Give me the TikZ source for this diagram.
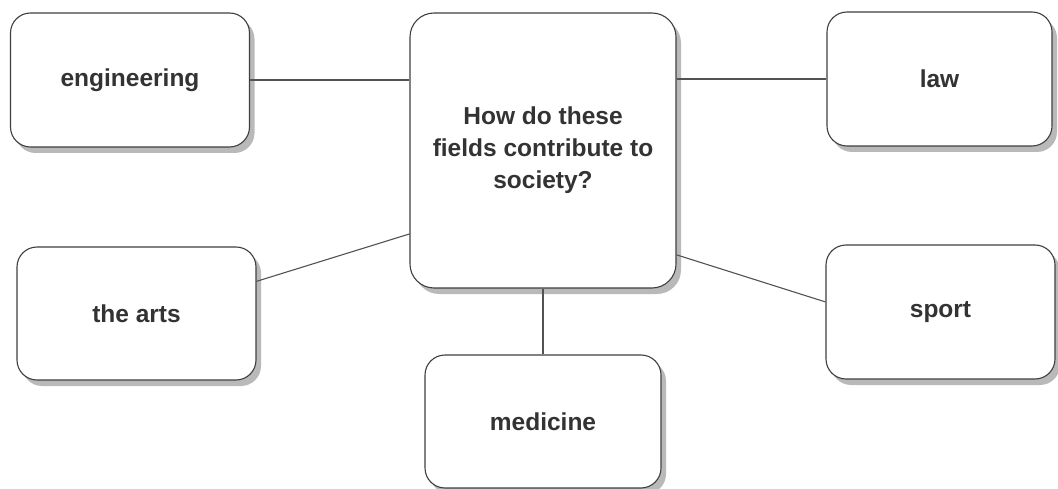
\documentclass[tikz,border=0pt]{standalone}
\usepackage{fontspec}
\setmainfont{Liberation Sans}
\usepackage{tikz}
\usetikzlibrary{shadows}
\definecolor{ink}{HTML}{333333}
\definecolor{rim}{HTML}{3F3F3F}
\tikzset{
    field/.style={rectangle, draw=rim, line width=1.1pt, fill=white,
        rounded corners=20pt, align=center, text=ink,
        font=\fontsize{24.5}{32}\selectfont\bfseries,
        drop shadow={shadow xshift=5pt, shadow yshift=-6pt,
            fill=black!50, opacity=.55}},
    link/.style={draw=rim!90, line width=1.1pt}
}

\begin{document}
\begin{tikzpicture}[x=1pt, y=-1pt]
  \useasboundingbox (0,0) rectangle (1058,489);

  \node (q) [field, minimum width=266pt, minimum height=275pt,
    rounded corners=24pt] at (543,150.5)
    {How do these\\fields contribute to\\society?};
  \node (eng) [field, minimum width=239pt, minimum height=134pt] at (130,80) {engineering};
  \node (law) [field, minimum width=225pt, minimum height=134pt] at (939.5,79) {law};
  \node (arts) [field, minimum width=239pt, minimum height=133pt] at (136.5,313.5) {the arts};
  \node (sport) [field, minimum width=229pt, minimum height=134pt] at (940.5,312) {sport};
  \node (med) [field, minimum width=236pt, minimum height=133pt] at (543,421.5) {medicine};

  \draw[link] (eng.east) -- (eng.east -| q.west);
  \draw[link] (q.east |- law.west) -- (law.west);
  \draw[link] (arts.15) -- (q.212);
  \draw[link] (q.322) -- (sport.175);
  \draw[link] (q) edge (med);

\end{tikzpicture}
\end{document}
